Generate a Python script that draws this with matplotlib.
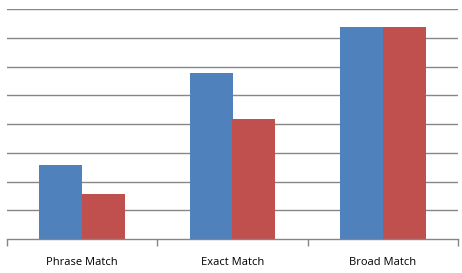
import numpy as np
from matplotlib import pyplot as plt

categories = ['Phrase Match', 'Exact Match', 'Broad Match']
series_a = [2.57, 5.77, 7.37]
series_b = [1.57, 4.17, 7.37]

BLUE = '#4F81BD'
RED = '#C0504D'
GRID = '#868686'


def main():
    fig = plt.figure(figsize=(4.62, 2.73), dpi=100)
    ax = fig.add_axes([7 / 462, 34 / 273, 451 / 462, 230 / 273])

    x = np.arange(len(categories))
    w = 0.286
    ax.bar(x - w / 2, series_a, w, color=BLUE, zorder=3)
    ax.bar(x + w / 2, series_b, w, color=RED, zorder=3)

    ax.set_xlim(-0.5, len(categories) - 0.5)
    ax.set_ylim(0, 8)

    # gridlines above the axis
    for g in range(1, 9):
        ax.axhline(g, color=GRID, lw=1.0, zorder=1)

    for s in ['left', 'right', 'top']:
        ax.spines[s].set_visible(False)
    ax.spines['bottom'].set_color(GRID)
    ax.spines['bottom'].set_linewidth(1.0)
    ax.spines['bottom'].set_zorder(4)

    ax.set_yticks([])
    ax.set_xticks(np.arange(len(categories) + 1) - 0.5)
    ax.set_xticklabels([])
    ax.tick_params(axis='x', which='major', direction='out', length=5,
                   color=GRID, width=1.0)
    ax.set_xticks(x, minor=True)
    ax.set_xticklabels(categories, minor=True, fontsize=8,
                       family=['Open Sans', 'DejaVu Sans'])
    ax.tick_params(axis='x', which='minor', length=0, pad=13)

    fig.savefig('out.png', dpi=100)


if __name__ == '__main__':
    main()
